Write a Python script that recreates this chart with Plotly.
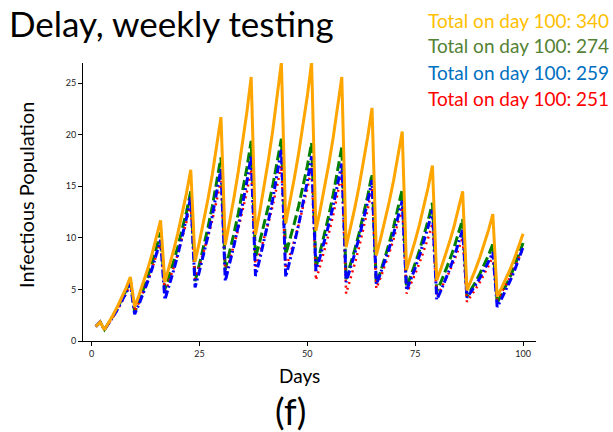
import plotly.graph_objects as go

days = list(range(1, 101))

orange = [1.4, 1.85, 1.1, 1.79, 2.53, 3.32, 4.19, 5.13, 6.2,
          3.3, 4.43, 5.65, 6.95, 8.38, 9.94, 11.7,
          5.7, 7.17, 8.75, 10.44, 12.29, 14.31, 16.6,
          7.7, 9.59, 11.62, 13.79, 16.17, 18.76, 21.7,
          9.3, 11.5, 13.86, 16.39, 19.16, 22.18, 25.6,
          10.3, 12.55, 14.98, 17.56, 20.4, 23.49, 27.0,
          11.4, 13.51, 15.77, 18.19, 20.84, 23.72, 27.0,
          10.7, 12.71, 14.87, 17.18, 19.71, 22.47, 25.6,
          9.1, 10.92, 12.88, 14.97, 17.27, 19.77, 22.6,
          8.3, 9.92, 11.66, 13.52, 15.56, 17.78, 20.3,
          6.9, 8.26, 9.73, 11.29, 13.01, 14.88, 17.0,
          5.9, 7.06, 8.31, 9.64, 11.1, 12.69, 14.5,
          4.9, 5.9, 6.97, 8.12, 9.38, 10.75, 12.3,
          4.3, 5.12, 6.01, 6.95, 7.99, 9.12, 10.4]

green = [1.4, 1.85, 1.1, 1.75, 2.44, 3.19, 4.0, 4.89, 5.9,
         2.8, 3.84, 4.96, 6.15, 7.46, 8.88, 10.5,
         5.0, 6.28, 7.66, 9.13, 10.75, 12.5, 14.5,
         5.8, 7.42, 9.16, 11.02, 13.06, 15.28, 17.8,
         6.9, 8.59, 10.4, 12.34, 14.46, 16.78, 19.4,
         8.1, 9.65, 11.32, 13.1, 15.06, 17.19, 19.6,
         8.4, 9.86, 11.42, 13.1, 14.93, 16.93, 19.2,
         7.1, 8.68, 10.38, 12.19, 14.18, 16.34, 18.8,
         6.0, 7.38, 8.86, 10.44, 12.17, 14.06, 16.2,
         5.5, 6.74, 8.08, 9.5, 11.07, 12.77, 14.7,
         5.2, 6.31, 7.5, 8.77, 10.16, 11.68, 13.4,
         4.8, 5.75, 6.76, 7.85, 9.04, 10.33, 11.8,
         4.3, 4.99, 5.73, 6.52, 7.39, 8.33, 9.4,
         3.7, 4.48, 5.32, 6.22, 7.21, 8.28, 9.5]

blue = [1.4, 1.85, 1.1, 1.71, 2.36, 3.06, 3.82, 4.66, 5.6,
        2.6, 3.57, 4.62, 5.73, 6.96, 8.29, 9.8,
        4.0, 5.35, 6.8, 8.35, 10.05, 11.9, 14.0,
        5.2, 6.75, 8.42, 10.2, 12.16, 14.29, 16.7,
        5.8, 7.45, 9.22, 11.11, 13.18, 15.44, 18.0,
        6.3, 7.96, 9.74, 11.65, 13.74, 16.02, 18.6,
        6.2, 7.78, 9.48, 11.29, 13.28, 15.44, 17.9,
        6.8, 8.2, 9.71, 11.32, 13.09, 15.02, 17.2,
        5.7, 7.04, 8.47, 10.01, 11.69, 13.52, 15.6,
        5.5, 6.59, 7.77, 9.02, 10.4, 11.9, 13.6,
        4.9, 5.95, 7.08, 8.29, 9.62, 11.06, 12.7,
        4.0, 4.92, 5.9, 6.96, 8.11, 9.37, 10.8,
        4.2, 4.79, 5.43, 6.11, 6.86, 7.68, 8.6,
        3.3, 4.08, 4.92, 5.82, 6.81, 7.88, 9.1]

red = [1.4, 1.85, 1.1, 1.69, 2.33, 3.01, 3.76, 4.58, 5.5,
       2.9, 3.8, 4.78, 5.81, 6.95, 8.19, 9.6,
       4.6, 5.79, 7.06, 8.43, 9.92, 11.55, 13.4,
       6.0, 7.28, 8.66, 10.13, 11.75, 13.5, 15.5,
       6.4, 7.78, 9.26, 10.84, 12.57, 14.46, 16.6,
       7.2, 8.52, 9.94, 11.46, 13.13, 14.94, 17.0,
       7.0, 8.32, 9.74, 11.26, 12.93, 14.74, 16.8,
       5.9, 7.3, 8.81, 10.42, 12.19, 14.12, 16.3,
       4.6, 5.99, 7.48, 9.08, 10.83, 12.74, 14.9,
       5.1, 6.17, 7.31, 8.54, 9.88, 11.34, 13.0,
       4.6, 5.52, 6.5, 7.56, 8.71, 9.97, 11.4,
       4.3, 5.07, 5.9, 6.78, 7.75, 8.8, 10.0,
       3.8, 4.39, 5.03, 5.71, 6.46, 7.28, 8.2,
       4.0, 4.68, 5.4, 6.18, 7.03, 7.95, 9.0]

totals = [340, 274, 259, 251]
total_colors = ["#FFC000", "#548235", "#0070C0", "#FF0000"]
x_ticks = [0, 25, 50, 75, 100]
y_ticks = [0, 5, 10, 15, 20, 25]

fig = go.Figure()
fig.add_trace(go.Scatter(x=days, y=green, mode="lines",
                         line=dict(color="#008000", width=3, dash="10px,4px")))
fig.add_trace(go.Scatter(x=days, y=red, mode="lines",
                         line=dict(color="#FF0000", width=2.5, dash="2px,4px")))
fig.add_trace(go.Scatter(x=days, y=blue, mode="lines",
                         line=dict(color="#0000FF", width=3, dash="8px,3px,2px,3px")))
fig.add_trace(go.Scatter(x=days, y=orange, mode="lines",
                         line=dict(color="#FFA500", width=3)))

L, R, T, B = 83, 77, 63, 91
W, H = 613, 432
pw, ph = W - L - R, H - T - B


def px(x):
    return (x - L) / pw


def py(y):
    return (H - B - y) / ph


ann = [
    dict(text="Delay, weekly testing", x=px(8), y=py(23), xanchor="left", yanchor="middle",
         font=dict(size=35, color="black", family="Lato")),
    dict(text="Infectious Population", x=px(26), y=py(195), textangle=-90,
         xanchor="center", yanchor="middle", font=dict(size=20, color="black", family="Lato")),
    dict(text="Days", x=px(299), y=py(375), xanchor="center", yanchor="middle",
         font=dict(size=19, color="black", family="Lato")),
    dict(text="(f)", x=px(290), y=py(411), xanchor="center", yanchor="middle",
         font=dict(size=36, color="black", family="Lato")),
]
for i, (t, c) in enumerate(zip(totals, total_colors)):
    ann.append(dict(text=f"Total on day 100: {t}", x=px(610), y=py(20 + 26 * i),
                    xanchor="right", yanchor="middle",
                    font=dict(size=19, color=c, family="Lato")))
for a in ann:
    a.update(xref="paper", yref="paper", showarrow=False, borderpad=0)

fig.update_layout(
    width=W, height=H,
    margin=dict(l=L, r=R, t=T, b=B),
    plot_bgcolor="white", paper_bgcolor="white",
    showlegend=False,
    annotations=ann,
    xaxis=dict(range=[-1.97, 103.0], tickvals=x_ticks, showgrid=False, zeroline=False,
               showline=True, linecolor="black", linewidth=1, ticks="outside",
               ticklen=4, tickcolor="black", tickfont=dict(size=9, color="#222", family="Lato")),
    yaxis=dict(range=[0, 26.95], tickvals=y_ticks, showgrid=False, zeroline=False,
               showline=True, linecolor="black", linewidth=1, ticks="outside",
               ticklen=4, tickcolor="black", tickfont=dict(size=9, color="#222", family="Lato")),
)

fig.write_html("out.html", config={"displayModeBar": False},
               post_script="document.body.style.margin='0';document.body.style.overflow='hidden';")
